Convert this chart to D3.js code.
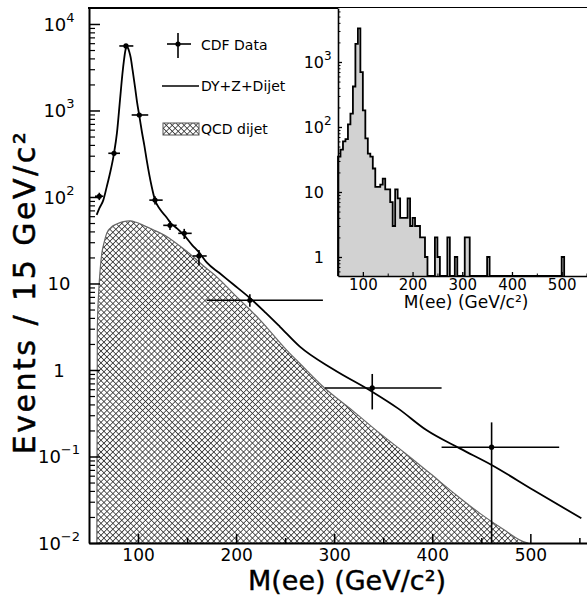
<!DOCTYPE html>
<html lang="en">
<head>
<meta charset="UTF-8">
<title>M(ee) spectrum</title>
<script src="https://cdn.jsdelivr.net/npm/d3@7/dist/d3.min.js"></script>
<style>
  body { margin: 0; background: #fff; }
  svg { display: block; font-family: "DejaVu Sans", sans-serif; }
  .axis path, .axis line { stroke: #000; fill: none; }
  .axis text { fill: #000; }
</style>
</head>
<body>
<script>
// CDF data points (M in GeV, events / 15 GeV)
var dataM   = [60.5, 75.5, 87.7, 101.3, 117.3, 132.6, 147.1, 162.1, 214, 338.8, 460.5];
var dataN   = [102, 320, 5570, 887, 92, 47, 38, 20.8, 6.4, 0.62, 0.128];
var dataMLo = [56.1, 69.7, 80.9, 93.5, 111.5, 125.7, 141, 155.7, 170, 290.6, 409.5];
var dataMHi = [64.6, 81.6, 95.2, 110.4, 125.1, 139.4, 154.7, 170, 288.5, 409.5, 529.4];
var dataNLo = [92, 302, 5400, 857, 82, 41.5, 32.7, 16.4, 5.4, 0.35, 0.001];
var dataNHi = [112, 338, 5750, 917, 102, 52.8, 42.8, 24.4, 7.5, 0.90, 0.248];

// DY + Z + dijet prediction
var curveM = [57.8, 60.5, 64.6, 68, 71.4, 75.5, 78.5, 81.6, 84, 85.7, 87.2, 88.4, 89.8, 91.2, 92.5,
              94.5, 96.9, 99, 101.3, 104, 106.5, 108.8, 111.5, 113.9, 117.3, 122.4, 129.2, 132.6,
              140, 147.1, 155, 162, 170, 183, 197, 214, 230, 244.7, 265, 299, 338.8,
              365, 394, 428, 460.5, 503, 552];
var curveN = [62, 74, 92, 130, 188, 320, 550, 1320, 2600, 3840, 5000, 5470, 5250, 4700, 4100,
              2900, 1880, 1250, 870, 560, 390, 268, 180, 132, 92, 72, 58, 51,
              43, 36, 28, 23, 17.5, 13.2, 9.8, 6.8, 4.6, 3.16, 1.86, 1.02, 0.56,
              0.36, 0.202, 0.124, 0.0798, 0.041, 0.0193];

// QCD dijet background
var qcdM = [58, 58.5, 60, 61.5, 63, 65.5, 68, 72, 78.2, 85, 91.8, 98, 105.4, 115, 129.2, 142,
            156.3, 168, 180, 197, 224.3, 251.5, 265, 288.8, 320, 346.6, 372, 397.6, 423,
            448.6, 472, 496, 498];
var qcdN = [0.01, 3, 8.4, 15, 22, 30, 38, 44, 48.7, 52, 53, 51, 47, 42, 35, 27.5,
            20.4, 15.5, 12, 7.7, 3.8, 1.7, 1.19, 0.64, 0.33, 0.185, 0.11, 0.064, 0.037,
            0.022, 0.0145, 0.0101, 0.01];

// inset histogram: 5 GeV bins starting at 50 GeV
var histStart = 50, histWidth = 5;
var histCounts = [35, 45, 60, 65, 110, 160, 420, 1900, 3300, 700,
                  180, 67, 39, 35, 23, 12, 12, 13, 16, 11,
                  11, 7, 3, 11, 8, 4, 4, 4, 8, 3,
                  4, 3, 3, 2, 2, 1, 0, 0, 0, 2,
                  1, 0, 0, 0, 2, 0, 0, 1, 0, 0,
                  0, 2, 2, 0, 0, 0, 0, 0, 0, 0,
                  1, 0, 0, 0, 0, 0, 0, 0, 0, 0,
                  0, 0, 0, 0, 0, 0, 0, 0, 0, 0,
                  0, 0, 0, 0, 0, 0, 0, 0, 0, 0,
                  1];

// tick labels
var xMajor = [100, 200, 300, 400, 500];
var xMinor = [150, 250, 350, 450, 550];
var yMajor = [1e-2, 1e-1, 1, 10, 1e2, 1e3, 1e4];
var yBase  = ["10", "10", "1", "10", "10", "10", "10"];
var yExp   = ["\u22122", "\u22121", "", "", "2", "3", "4"];
var inYMajor = [1, 10, 100, 1000];
var inYBase  = ["1", "10", "10", "10"];
var inYExp   = ["", "", "2", "3"];

var w = 587, h = 603;
var svg = d3.select("body").append("svg").attr("width", w).attr("height", h);

var x = d3.scaleLinear().domain([50, 570]).range([89, 599]);
var y = d3.scaleLog().domain([1e-2, 15300]).range([543, 8]).clamp(true);

var defs = svg.append("defs");
var hatch = defs.append("pattern")
  .attr("id", "hatch")
  .attr("patternUnits", "userSpaceOnUse")
  .attr("width", 4.2).attr("height", 4.2)
  .attr("patternTransform", "rotate(45)");
hatch.append("rect").attr("width", 4.2).attr("height", 4.2).attr("fill", "#fff");
hatch.append("line").attr("x1", 0).attr("y1", 0).attr("x2", 4.2).attr("y2", 0)
  .attr("stroke", "#2a2a2a").attr("stroke-width", 1.5);
hatch.append("line").attr("x1", 0).attr("y1", 0).attr("x2", 0).attr("y2", 4.2)
  .attr("stroke", "#2a2a2a").attr("stroke-width", 1.5);

defs.append("clipPath").attr("id", "mainclip")
  .append("rect").attr("x", 89).attr("y", 8).attr("width", 510).attr("height", 535);

var plot = svg.append("g").attr("clip-path", "url(#mainclip)");

// QCD dijet filled region
var qcd = qcdM.map((m, i) => [m, qcdN[i]]);
plot.append("path")
  .datum(qcd)
  .attr("fill", "url(#hatch)")
  .attr("stroke", "#666")
  .attr("stroke-width", 1.2)
  .attr("d", d3.area().x(d => x(d[0])).y0(y(1e-2)).y1(d => y(d[1])).curve(d3.curveMonotoneX));

// DY+Z+Dijet curve
var curve = curveM.map((m, i) => [m, curveN[i]]);
plot.append("path")
  .datum(curve)
  .attr("fill", "none")
  .attr("stroke", "#000")
  .attr("stroke-width", 1.8)
  .attr("d", d3.line().x(d => x(d[0])).y(d => y(d[1])).curve(d3.curveMonotoneX));

// data points with error bars
var pts = plot.selectAll("g.pt")
  .data(dataM.map((m, i) => ({m: m, n: dataN[i], mlo: dataMLo[i], mhi: dataMHi[i], nlo: dataNLo[i], nhi: dataNHi[i]})))
  .enter().append("g").attr("class", "pt");
pts.append("line")
  .attr("x1", d => x(d.mlo)).attr("x2", d => x(d.mhi))
  .attr("y1", d => y(d.n)).attr("y2", d => y(d.n))
  .attr("stroke", "#000").attr("stroke-width", 1.6);
pts.append("line")
  .attr("x1", d => x(d.m)).attr("x2", d => x(d.m))
  .attr("y1", d => y(d.nlo)).attr("y2", d => y(d.nhi))
  .attr("stroke", "#000").attr("stroke-width", 1.6);
pts.append("circle")
  .attr("cx", d => x(d.m)).attr("cy", d => y(d.n)).attr("r", 2.6).attr("fill", "#000");

// main axes
svg.append("g").attr("class", "axis")
  .attr("transform", "translate(0,543)")
  .call(d3.axisBottom(x).tickValues(xMajor).tickSizeInner(-9).tickSizeOuter(0).tickPadding(6).tickFormat(d3.format("d")))
  .attr("font-size", 17).attr("font-family", "DejaVu Sans")
  .call(g => g.select(".domain").attr("stroke-width", 2))
  .call(g => g.selectAll(".tick line").attr("stroke-width", 1.5));
svg.append("g").attr("class", "axis")
  .attr("transform", "translate(0,543)")
  .call(d3.axisBottom(x).tickValues(xMinor).tickSizeInner(-5).tickSizeOuter(0).tickFormat(""))
  .call(g => g.select(".domain").remove())
  .call(g => g.selectAll(".tick line").attr("stroke-width", 1.5));

var yMinor = y.ticks().filter(v => yMajor.indexOf(v) < 0);
svg.append("g").attr("class", "axis")
  .attr("transform", "translate(89,0)")
  .call(d3.axisLeft(y).tickValues(yMajor).tickSizeInner(-11).tickSizeOuter(0).tickFormat(""))
  .call(g => g.select(".domain").attr("stroke-width", 2))
  .call(g => g.selectAll(".tick line").attr("stroke-width", 1.5));
svg.append("g").attr("class", "axis")
  .attr("transform", "translate(89,0)")
  .call(d3.axisLeft(y).tickValues(yMinor).tickSizeInner(-6).tickSizeOuter(0).tickFormat(""))
  .call(g => g.select(".domain").remove())
  .call(g => g.selectAll(".tick line").attr("stroke-width", 1.2));

var ylab = svg.append("g").selectAll("text")
  .data(yMajor).enter().append("text")
  .attr("x", 59).attr("y", d => y(d) + 7)
  .attr("text-anchor", "middle")
  .attr("font-size", 18);
ylab.append("tspan").text((d, i) => yBase[i]);
ylab.append("tspan").attr("dy", -9).attr("font-size", 13).text((d, i) => yExp[i]);

// top frame line
svg.append("line").attr("x1", 88).attr("x2", 599).attr("y1", 8).attr("y2", 8)
  .attr("stroke", "#000").attr("stroke-width", 2);

// axis titles
svg.append("text")
  .attr("x", 347).attr("y", 590)
  .attr("text-anchor", "middle")
  .attr("font-size", 27)
  .attr("stroke", "#000").attr("stroke-width", 0.4)
  .text("M(ee) (GeV/c\u00b2)");
svg.append("text")
  .attr("transform", "translate(35,292) rotate(-90)")
  .attr("text-anchor", "middle")
  .attr("font-size", 30)
  .attr("letter-spacing", 2.5)
  .attr("stroke", "#000").attr("stroke-width", 0.5)
  .text("Events / 15 GeV/c\u00b2");

// legend
var leg = svg.append("g");
leg.append("line").attr("x1", 167).attr("x2", 191).attr("y1", 44).attr("y2", 44).attr("stroke", "#000").attr("stroke-width", 1.6);
leg.append("line").attr("x1", 178).attr("x2", 178).attr("y1", 33).attr("y2", 58).attr("stroke", "#000").attr("stroke-width", 1.6);
leg.append("circle").attr("cx", 178).attr("cy", 44).attr("r", 2.6).attr("fill", "#000");
leg.append("text").attr("x", 201).attr("y", 50).attr("font-size", 14).text("CDF Data");
leg.append("line").attr("x1", 162).attr("x2", 199).attr("y1", 86).attr("y2", 86).attr("stroke", "#000").attr("stroke-width", 1.4);
leg.append("text").attr("x", 201).attr("y", 91).attr("font-size", 14).text("DY+Z+Dijet");
leg.append("rect").attr("x", 163).attr("y", 123).attr("width", 36).attr("height", 12)
  .attr("fill", "url(#hatch)").attr("stroke", "#555").attr("stroke-width", 1);
leg.append("text").attr("x", 201).attr("y", 134).attr("font-size", 14).text("QCD dijet");

// ---- inset ----
var ix = d3.scaleLinear().domain([50, 560]).range([338, 591.5]);
var iy = d3.scaleLog().domain([0.51, 6770]).range([276, 8]).clamp(true);

svg.append("rect").attr("x", 338).attr("y", 8).attr("width", 260).attr("height", 268).attr("fill", "#fff");

var hist = histCounts.map((c, i) => [histStart + i * histWidth, c]);
var last = histStart + histCounts.length * histWidth;
hist.unshift([histStart, 0]);
hist.push([last, histCounts[histCounts.length - 1]]);
hist.push([last, 0]);
var hy = d => d[1] > 0 ? iy(d[1]) : 276;
svg.append("path")
  .datum(hist)
  .attr("fill", "#d2d2d2")
  .attr("stroke", "#000")
  .attr("stroke-width", 1.8)
  .attr("stroke-linejoin", "miter")
  .attr("d", d3.line().x(d => ix(d[0])).y(hy).curve(d3.curveStepAfter));

svg.append("g").attr("class", "axis")
  .attr("transform", "translate(0,276)")
  .call(d3.axisBottom(ix).tickValues(xMajor).tickSizeInner(-4).tickSizeOuter(0).tickPadding(3).tickFormat(d3.format("d")))
  .attr("font-size", 15).attr("font-family", "DejaVu Sans")
  .call(g => g.select(".domain").attr("stroke-width", 1.6))
  .call(g => g.selectAll(".tick line").attr("stroke-width", 1.3));
svg.append("g").attr("class", "axis")
  .attr("transform", "translate(0,276)")
  .call(d3.axisBottom(ix).tickValues(xMinor).tickSizeInner(-2.5).tickSizeOuter(0).tickFormat(""))
  .call(g => g.select(".domain").remove());

var inYMinor = iy.ticks().filter(v => inYMajor.indexOf(v) < 0);
svg.append("g").attr("class", "axis")
  .attr("transform", "translate(338,0)")
  .call(d3.axisLeft(iy).tickValues(inYMajor).tickSizeInner(-4).tickSizeOuter(0).tickFormat(""))
  .call(g => g.select(".domain").attr("stroke-width", 1.6))
  .call(g => g.selectAll(".tick line").attr("stroke-width", 1.3));
svg.append("g").attr("class", "axis")
  .attr("transform", "translate(338,0)")
  .call(d3.axisLeft(iy).tickValues(inYMinor).tickSizeInner(-2.5).tickSizeOuter(0).tickFormat(""))
  .call(g => g.select(".domain").remove());

svg.append("g").selectAll("text")
  .data(inYMajor).enter().append("text")
  .attr("x", 324).attr("y", d => iy(d) + 6)
  .attr("text-anchor", "end")
  .attr("font-size", 16)
  .text((d, i) => inYBase[i]);
svg.append("g").selectAll("text")
  .data(inYMajor).enter().append("text")
  .attr("x", 324).attr("y", d => iy(d) - 2)
  .attr("font-size", 12)
  .text((d, i) => inYExp[i]);

svg.append("text")
  .attr("x", 466).attr("y", 308)
  .attr("text-anchor", "middle")
  .attr("font-size", 17)
  .text("M(ee) (GeV/c\u00b2)");
</script>
</body>
</html>
